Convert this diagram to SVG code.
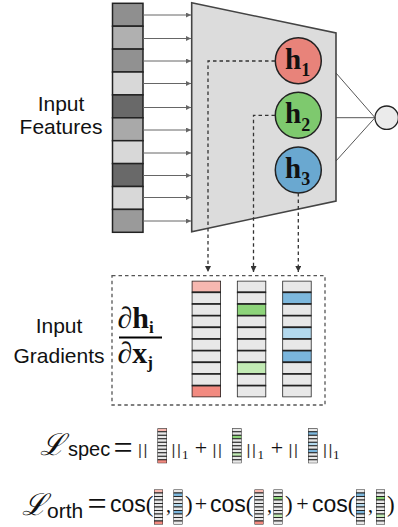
<svg xmlns="http://www.w3.org/2000/svg" xmlns:xlink="http://www.w3.org/1999/xlink" width="398" height="527" viewBox="0 0 398 527">
<style>
.sans{font-family:"Liberation Sans",Arial,sans-serif;fill:#111}
.serif{font-family:"Liberation Serif","Times New Roman",serif;fill:#111}
.bold{font-weight:bold}
.feat{stroke:#222;stroke-width:1.5}
.arr{stroke:#666;stroke-width:1}
.dash{stroke:#333;stroke-width:1.3;stroke-dasharray:3.5 3;fill:none}
.fc{stroke:#444;stroke-width:0.9}
.mini{stroke:#222;stroke-width:3.2}
.big{stroke:#222;stroke-width:1.6}
.script{font-family:"DejaVu Serif",serif;font-style:italic;fill:#111}
.norm{font-family:"Liberation Sans",Arial,sans-serif;fill:#333;font-size:15px;letter-spacing:1.5px}
.eq{font-family:"Liberation Serif","Times New Roman",serif;fill:#111;font-size:34px;text-anchor:middle}
.plus{font-family:"Liberation Serif","Times New Roman",serif;fill:#111;font-size:22px;text-anchor:middle}
</style>
<defs>
<marker id="ag" viewBox="0 0 6 6" refX="6" refY="3" markerWidth="5" markerHeight="5" orient="auto" markerUnits="userSpaceOnUse"><path d="M0,0 L6,3 L0,6 z" fill="#666"/></marker>
<marker id="ad" viewBox="0 0 6 6" refX="6" refY="3" markerWidth="6" markerHeight="6" orient="auto" markerUnits="userSpaceOnUse"><path d="M0,0 L6,3 L0,6 z" fill="#333"/></marker>
<symbol id="colR" viewBox="0 0 30 117" preserveAspectRatio="none">
<rect x="0" y="0" width="30" height="11.7" fill="#f7b8b0"/><rect x="0" y="11.7" width="30" height="11.7" fill="#e8e8e8"/><rect x="0" y="23.4" width="30" height="11.7" fill="#e8e8e8"/><rect x="0" y="35.1" width="30" height="11.7" fill="#e8e8e8"/><rect x="0" y="46.8" width="30" height="11.7" fill="#e8e8e8"/><rect x="0" y="58.5" width="30" height="11.7" fill="#e8e8e8"/><rect x="0" y="70.2" width="30" height="11.7" fill="#e8e8e8"/><rect x="0" y="81.9" width="30" height="11.7" fill="#e8e8e8"/><rect x="0" y="93.6" width="30" height="11.7" fill="#e8e8e8"/><rect x="0" y="105.3" width="30" height="11.7" fill="#f28a80"/>
</symbol>
<symbol id="colG" viewBox="0 0 30 117" preserveAspectRatio="none">
<rect x="0" y="0" width="30" height="11.7" fill="#e8e8e8"/><rect x="0" y="11.7" width="30" height="11.7" fill="#e8e8e8"/><rect x="0" y="23.4" width="30" height="11.7" fill="#8dd47a"/><rect x="0" y="35.1" width="30" height="11.7" fill="#e8e8e8"/><rect x="0" y="46.8" width="30" height="11.7" fill="#e8e8e8"/><rect x="0" y="58.5" width="30" height="11.7" fill="#e8e8e8"/><rect x="0" y="70.2" width="30" height="11.7" fill="#e8e8e8"/><rect x="0" y="81.9" width="30" height="11.7" fill="#c2eab4"/><rect x="0" y="93.6" width="30" height="11.7" fill="#e8e8e8"/><rect x="0" y="105.3" width="30" height="11.7" fill="#e8e8e8"/>
</symbol>
<symbol id="colB" viewBox="0 0 30 117" preserveAspectRatio="none">
<rect x="0" y="0" width="30" height="11.7" fill="#e8e8e8"/><rect x="0" y="11.7" width="30" height="11.7" fill="#7db8dd"/><rect x="0" y="23.4" width="30" height="11.7" fill="#e8e8e8"/><rect x="0" y="35.1" width="30" height="11.7" fill="#e8e8e8"/><rect x="0" y="46.8" width="30" height="11.7" fill="#b3d9ee"/><rect x="0" y="58.5" width="30" height="11.7" fill="#e8e8e8"/><rect x="0" y="70.2" width="30" height="11.7" fill="#7ab5dc"/><rect x="0" y="81.9" width="30" height="11.7" fill="#e8e8e8"/><rect x="0" y="93.6" width="30" height="11.7" fill="#e8e8e8"/><rect x="0" y="105.3" width="30" height="11.7" fill="#e8e8e8"/>
</symbol>
</defs>

<g id="input-features">
<rect class="feat" x="112.5" y="3.3" width="30.5" height="22.9" fill="#8f8f8f"/>
<rect class="feat" x="112.5" y="26.2" width="30.5" height="22.9" fill="#b0b0b0"/>
<rect class="feat" x="112.5" y="49.1" width="30.5" height="22.9" fill="#919191"/>
<rect class="feat" x="112.5" y="72" width="30.5" height="22.9" fill="#d8d8d8"/>
<rect class="feat" x="112.5" y="94.9" width="30.5" height="22.9" fill="#696969"/>
<rect class="feat" x="112.5" y="117.8" width="30.5" height="22.9" fill="#a9a9a9"/>
<rect class="feat" x="112.5" y="140.7" width="30.5" height="22.9" fill="#d8d8d8"/>
<rect class="feat" x="112.5" y="163.6" width="30.5" height="22.9" fill="#696969"/>
<rect class="feat" x="112.5" y="186.5" width="30.5" height="22.9" fill="#d8d8d8"/>
<rect class="feat" x="112.5" y="209.4" width="30.5" height="22.9" fill="#9a9a9a"/>
<text class="sans" font-size="21" text-anchor="middle" x="61" y="110.7">Input</text>
<text class="sans" font-size="21" text-anchor="middle" x="61" y="134.3">Features</text>
</g>

<g id="network">
<polygon points="191.7,2.7 336,33 336,201 191.7,231.7" fill="#dcdcdc" stroke="#444" stroke-width="1.6" stroke-linejoin="miter"/>
</g>

<g id="h1">
<circle cx="298.3" cy="60.7" r="23" fill="#e8837a" stroke="#222" stroke-width="1.5"/>
<text class="serif bold" font-size="29" x="285" y="68.5">h<tspan font-size="18" dy="7.5">1</tspan></text>
</g>
<g id="h2">
<circle cx="298.3" cy="115.3" r="23" fill="#7ec96e" stroke="#222" stroke-width="1.5"/>
<text class="serif bold" font-size="29" x="285" y="123">h<tspan font-size="18" dy="7.5">2</tspan></text>
</g>
<g id="h3">
<circle cx="298.3" cy="170" r="23" fill="#6aa8d0" stroke="#222" stroke-width="1.5"/>
<text class="serif bold" font-size="29" x="285" y="177.7">h<tspan font-size="18" dy="7.5">3</tspan></text>
</g>
<g id="output">
<circle cx="386.7" cy="117.7" r="11.7" fill="#ebebeb" stroke="#222" stroke-width="1.3"/>
</g>

<g id="gradients">
<rect x="112" y="275.7" width="213" height="129.3" fill="none" stroke="#555" stroke-width="1.3" stroke-dasharray="3.5 3"/>
<text class="sans" font-size="21" text-anchor="middle" x="59" y="332.7">Input</text>
<text class="sans" font-size="21" text-anchor="middle" x="59" y="363.3">Gradients</text>
<text class="serif" font-size="30" x="117.5" y="328"><tspan font-style="italic">∂</tspan><tspan font-weight="bold">h</tspan><tspan font-weight="bold" font-size="17" dy="5">i</tspan></text>
<line x1="119" y1="337.5" x2="162" y2="337.5" stroke="#000" stroke-width="2"/>
<text class="serif" font-size="30" x="117.5" y="363"><tspan font-style="italic">∂</tspan><tspan font-weight="bold">x</tspan><tspan font-weight="bold" font-size="17" dy="5">j</tspan></text>
<use href="#colR" xlink:href="#colR" class="big" x="191.7" y="280.7" width="29.3" height="116.6"/>
<use href="#colG" xlink:href="#colG" class="big" x="236.9" y="280.7" width="29.3" height="116.6"/>
<use href="#colB" xlink:href="#colB" class="big" x="282.3" y="280.7" width="29.3" height="116.6"/>
</g>

<g id="connectors">
<line class="arr" x1="143" y1="15" x2="191" y2="15" marker-end="url(#ag)"/>
<line class="arr" x1="143" y1="38.5" x2="191" y2="38.5" marker-end="url(#ag)"/>
<line class="arr" x1="143" y1="61" x2="191" y2="61" marker-end="url(#ag)"/>
<line class="arr" x1="143" y1="83.5" x2="191" y2="83.5" marker-end="url(#ag)"/>
<line class="arr" x1="143" y1="107.5" x2="191" y2="107.5" marker-end="url(#ag)"/>
<line class="arr" x1="143" y1="130" x2="191" y2="130" marker-end="url(#ag)"/>
<line class="arr" x1="143" y1="153" x2="191" y2="153" marker-end="url(#ag)"/>
<line class="arr" x1="143" y1="175.5" x2="191" y2="175.5" marker-end="url(#ag)"/>
<line class="arr" x1="143" y1="197.5" x2="191" y2="197.5" marker-end="url(#ag)"/>
<line class="arr" x1="143" y1="221" x2="191" y2="221" marker-end="url(#ag)"/>
<line class="fc" x1="336" y1="73" x2="375" y2="117.7"/>
<line class="fc" x1="336" y1="117.7" x2="375" y2="117.7"/>
<line class="fc" x1="336" y1="161" x2="375" y2="117.7"/>
<polyline class="dash" points="275,61 208,61 208,272" marker-end="url(#ad)"/>
<polyline class="dash" points="275,115.3 253.5,115.3 253.5,272" marker-end="url(#ad)"/>
<polyline class="dash" points="298.3,193 298.3,272" marker-end="url(#ad)"/>
</g>

<g id="loss-spec">
<text class="script" font-size="30" x="40" y="455">ℒ</text>
<text class="sans" font-size="20" x="68" y="456">spec</text>
<text class="eq" x="123" y="459">=</text>
<text class="norm" x="138" y="455">||</text>
<use href="#colR" xlink:href="#colR" class="mini" x="157.5" y="428.3" width="9.5" height="35"/>
<text class="norm" x="171.5" y="455">||</text>
<text class="serif" font-size="13" x="182" y="459">1</text>
<text class="plus" x="201" y="455">+</text>
<text class="norm" x="212.5" y="455">||</text>
<use href="#colG" xlink:href="#colG" class="mini" x="232" y="428.3" width="9.5" height="35"/>
<text class="norm" x="246.5" y="455">||</text>
<text class="serif" font-size="13" x="257.5" y="459">1</text>
<text class="plus" x="277" y="455">+</text>
<text class="norm" x="288.5" y="455">||</text>
<use href="#colB" xlink:href="#colB" class="mini" x="308" y="428.3" width="9.5" height="35"/>
<text class="norm" x="323" y="455">||</text>
<text class="serif" font-size="13" x="333" y="459">1</text>
</g>

<g id="loss-orth">
<text class="script" font-size="30" x="22" y="515">ℒ</text>
<text class="sans" font-size="21" x="47" y="518">orth</text>
<text class="eq" x="97" y="515">=</text>
<text class="sans" font-size="23" x="110" y="512">cos<tspan class="serif">(</tspan></text>
<use href="#colR" xlink:href="#colR" class="mini" x="154" y="489.5" width="9" height="35"/>
<text class="serif" font-size="20" x="166" y="512">,</text>
<use href="#colB" xlink:href="#colB" class="mini" x="173.5" y="489.5" width="9" height="35"/>
<text class="serif" font-size="23" x="185" y="512">)</text>
<text class="plus" x="201" y="511">+</text>
<text class="sans" font-size="23" x="210" y="512">cos<tspan class="serif">(</tspan></text>
<use href="#colR" xlink:href="#colR" class="mini" x="254.5" y="489.5" width="9" height="35"/>
<text class="serif" font-size="20" x="267" y="512">,</text>
<use href="#colG" xlink:href="#colG" class="mini" x="273.5" y="489.5" width="9" height="35"/>
<text class="serif" font-size="23" x="285" y="512">)</text>
<text class="plus" x="302.5" y="511">+</text>
<text class="sans" font-size="23" x="312" y="512">cos<tspan class="serif">(</tspan></text>
<use href="#colB" xlink:href="#colB" class="mini" x="356" y="489.5" width="9" height="35"/>
<text class="serif" font-size="20" x="368" y="512">,</text>
<use href="#colG" xlink:href="#colG" class="mini" x="376" y="489.5" width="9" height="35"/>
<text class="serif" font-size="23" x="387" y="512">)</text>
</g>
</svg>
